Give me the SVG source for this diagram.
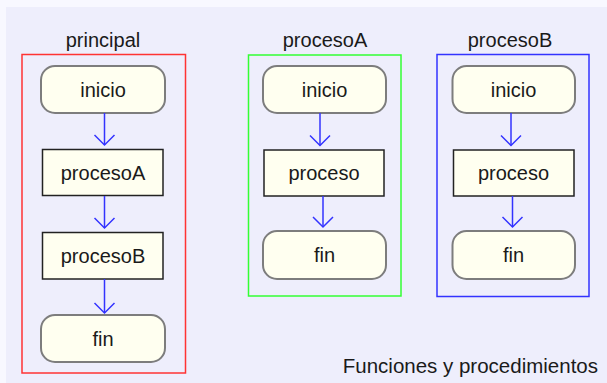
<svg xmlns="http://www.w3.org/2000/svg" width="607" height="383" viewBox="0 0 607 383">
<style>
text{font-family:"Liberation Sans",Arial,sans-serif;font-size:20px;fill:#1a1a1a;text-anchor:middle}
.term{fill:#FFFFF0;stroke:#7d7d7d;stroke-width:2}
.proc{fill:#FFFFF0;stroke:#222;stroke-width:1.5}
.frame{fill:none;stroke-width:1.5}
.conn{stroke:#3333FF;stroke-width:1.5;fill:none;marker-end:url(#arr)}
</style>
<defs>
<marker id="arr" markerUnits="userSpaceOnUse" viewBox="-12 -12 14 24" refX="0" refY="0" markerWidth="14" markerHeight="24" orient="auto">
<path d="M-10,-10 L0,0 L-10,10" fill="none" stroke="#3333FF" stroke-width="1.5"/>
</marker>
</defs>
<rect x="0" y="0" width="607" height="383" fill="#F8F8FF"/>
<rect x="6" y="7" width="601" height="376" fill="#EEEEFC"/>

<g id="frame-principal">
<rect class="frame" x="22" y="54.5" width="163.5" height="318.5" stroke="#FF3333"/>
<text x="103" y="46.5">principal</text>
</g>
<g id="frame-procesoA">
<rect class="frame" x="248.5" y="55" width="152.5" height="241" stroke="#33FF33"/>
<text x="325" y="46.5">procesoA</text>
</g>
<g id="frame-procesoB">
<rect class="frame" x="437" y="54.5" width="152" height="242" stroke="#3333FF"/>
<text x="510" y="46.5">procesoB</text>
</g>

<g id="p-inicio"><rect class="term" x="41" y="66" width="124" height="47" rx="14"/><text x="103" y="96.5">inicio</text></g>
<g id="p-procesoA"><rect class="proc" x="42.5" y="149.5" width="120.5" height="46"/><text x="103" y="179.5">procesoA</text></g>
<g id="p-procesoB"><rect class="proc" x="42.5" y="232.5" width="120.5" height="46.5"/><text x="103" y="262.5">procesoB</text></g>
<g id="p-fin"><rect class="term" x="41" y="315" width="124" height="47" rx="14"/><text x="103" y="345.5">fin</text></g>

<g id="a-inicio"><rect class="term" x="263" y="66" width="123" height="47" rx="14"/><text x="324.5" y="96.5">inicio</text></g>
<g id="a-proceso"><rect class="proc" x="264" y="150" width="120" height="46"/><text x="324" y="180">proceso</text></g>
<g id="a-fin"><rect class="term" x="263" y="231" width="123" height="48" rx="14"/><text x="324.5" y="262">fin</text></g>

<g id="b-inicio"><rect class="term" x="452.5" y="66" width="122.5" height="47" rx="14"/><text x="513.5" y="96.5">inicio</text></g>
<g id="b-proceso"><rect class="proc" x="453.5" y="150" width="120.5" height="46"/><text x="513.5" y="180">proceso</text></g>
<g id="b-fin"><rect class="term" x="452.5" y="231" width="122.5" height="48" rx="14"/><text x="513.5" y="262">fin</text></g>

<g id="connectors">
<path class="conn" d="M104.5,113 V145"/>
<path class="conn" d="M104.5,196 V228"/>
<path class="conn" d="M104.5,279 V313"/>
<path class="conn" d="M320,113 V145.5"/>
<path class="conn" d="M323,196 V227"/>
<path class="conn" d="M511,113 V145.5"/>
<path class="conn" d="M512.5,196 V227"/>
</g>

<text x="598" y="372.5" style="text-anchor:end;font-size:20.5px">Funciones y procedimientos</text>
</svg>
